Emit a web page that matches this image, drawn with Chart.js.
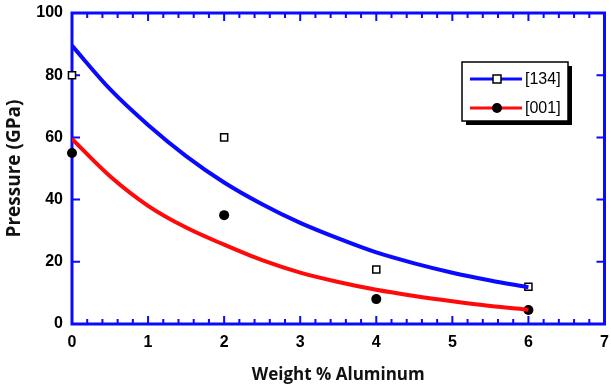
<!DOCTYPE html>
<html>
<head>
<meta charset="utf-8">
<script src="https://cdn.jsdelivr.net/npm/chart.js@4/dist/chart.umd.min.js"></script>
<style>
  html, body { margin: 0; padding: 0; background: #fff; }
  #wrap { width: 611px; height: 389px; }
</style>
</head>
<body>
<div id="wrap"><canvas id="pressureChart"></canvas></div>
<script>
// measured points
const weightPct = [0, 2, 4, 6];
const pressure134 = [80, 60, 17.5, 12];
const pressure001 = [55, 35, 8, 4.5];

// fitted curves, sampled every 0.5 wt%
const fitWeight = [0, 0.5, 1, 1.5, 2, 2.5, 3, 3.5, 4, 4.5, 5, 5.5, 6];
const fit134 = [89.5, 75.5, 64, 54, 45.5, 38.5, 32.5, 27.5, 23, 19.5, 16.5, 14, 11.8];
const fit001 = [59.5, 47.5, 38, 31, 25.5, 20.5, 16.5, 13.5, 11, 9, 7.3, 5.8, 4.6];

const xTickValues = [0, 1, 2, 3, 4, 5, 6, 7];
const yTickValues = [0, 20, 40, 60, 80, 100];

const BLUE = '#0a0aff';
const RED = '#ff0a0a';
const FONT = '"Liberation Sans", Arial, sans-serif';
const TITLE_FONT = '"Open Sans", "Liberation Sans", sans-serif';

function toXY(xs, ys) {
    return xs.map((x, i) => ({ x: x, y: ys[i] }));
}

// box frame with inward ticks on all four sides
const frameTicks = {
    id: 'frameTicks',
    beforeDatasetsDraw(chart) {
        const { ctx, chartArea: a, scales: { x, y } } = chart;
        ctx.save();
        ctx.strokeStyle = BLUE;
        ctx.lineWidth = 2;
        ctx.beginPath();
        for (let i = 1; i < 35; i++) {
            const px = x.getPixelForValue(i / 5);
            const len = i % 5 === 0 ? 8 : 5;
            ctx.moveTo(px, a.bottom); ctx.lineTo(px, a.bottom - len);
            ctx.moveTo(px, a.top); ctx.lineTo(px, a.top + len);
        }
        y.ticks.forEach(t => {
            if (t.value <= 0 || t.value >= 100) return;
            const py = y.getPixelForValue(t.value);
            ctx.moveTo(a.left, py); ctx.lineTo(a.left + 8, py);
            ctx.moveTo(a.right, py); ctx.lineTo(a.right - 8, py);
        });
        ctx.stroke();
        ctx.lineWidth = 3;
        ctx.strokeRect(a.left, a.top, a.right - a.left, a.bottom - a.top);
        ctx.restore();
    }
};

// boxed legend with drop shadow, line sample plus marker
const boxLegend = {
    id: 'boxLegend',
    afterDraw(chart) {
        const ctx = chart.ctx;
        const bx = 462, by = 62, bw = 106, bh = 59;
        ctx.save();
        ctx.fillStyle = '#000';
        ctx.fillRect(bx + 4, by + 4, bw, bh);
        ctx.fillStyle = '#fff';
        ctx.fillRect(bx, by, bw, bh);
        ctx.strokeStyle = '#000';
        ctx.lineWidth = 1.5;
        ctx.strokeRect(bx, by, bw, bh);

        const items = [
            { line: BLUE, ds: chart.data.datasets[2], y: by + 17 },
            { line: RED, ds: chart.data.datasets[3], y: by + 46 }
        ];
        items.forEach(it => {
            ctx.strokeStyle = it.line;
            ctx.lineWidth = 3;
            ctx.beginPath();
            ctx.moveTo(bx + 8, it.y);
            ctx.lineTo(bx + 60, it.y);
            ctx.stroke();
            const mx = bx + 35;
            if (it.ds.pointStyle === 'rect') {
                ctx.fillStyle = '#fff';
                ctx.fillRect(mx - 4, it.y - 4, 8, 8);
                ctx.strokeStyle = '#000';
                ctx.lineWidth = 1.5;
                ctx.strokeRect(mx - 4, it.y - 4, 8, 8);
            } else {
                ctx.fillStyle = '#000';
                ctx.beginPath();
                ctx.arc(mx, it.y, 5, 0, Math.PI * 2);
                ctx.fill();
            }
            ctx.fillStyle = '#000';
            ctx.font = '16px ' + FONT;
            ctx.textBaseline = 'middle';
            ctx.fillText(it.ds.label, bx + 63, it.y + 1);
        });
        ctx.restore();
    }
};

new Chart(document.getElementById('pressureChart'), {
    type: 'scatter',
    data: {
        datasets: [{
            data: toXY(fitWeight, fit134),
            showLine: true,
            borderColor: BLUE,
            borderWidth: 4,
            pointRadius: 0,
            cubicInterpolationMode: 'monotone'
        }, {
            data: toXY(fitWeight, fit001),
            showLine: true,
            borderColor: RED,
            borderWidth: 4,
            pointRadius: 0,
            cubicInterpolationMode: 'monotone'
        }, {
            label: '[134]',
            data: toXY(weightPct, pressure134),
            pointStyle: 'rect',
            pointRadius: 5,
            backgroundColor: '#fff',
            borderColor: '#000',
            borderWidth: 1.5,
            clip: false
        }, {
            label: '[001]',
            data: toXY(weightPct, pressure001),
            pointStyle: 'circle',
            pointRadius: 5,
            backgroundColor: '#000',
            borderColor: '#000',
            borderWidth: 0,
            clip: false
        }]
    },
    options: {
        responsive: true,
        maintainAspectRatio: false,
        animation: false,
        layout: { padding: { top: 13, right: 6, left: 0, bottom: 0 } },
        plugins: {
            legend: { display: false },
            tooltip: { enabled: false }
        },
        scales: {
            x: {
                type: 'linear',
                min: 0,
                max: 7,
                afterBuildTicks: s => { s.ticks = xTickValues.map(v => ({ value: v })); },
                afterFit: s => { s.height = 65; s.paddingLeft = 0; s.paddingRight = 0; },
                grid: { display: false, drawTicks: false },
                border: { display: false },
                ticks: {
                    color: '#000',
                    padding: 9,
                    font: { family: FONT, size: 16, weight: 'bold' }
                },
                title: {
                    display: true,
                    text: 'Weight % Aluminum',
                    color: '#111',
                    padding: { bottom: 4 },
                    font: { family: TITLE_FONT, size: 17, weight: 'bold' }
                }
            },
            y: {
                type: 'linear',
                min: 0,
                max: 100,
                afterBuildTicks: s => { s.ticks = yTickValues.map(v => ({ value: v })); },
                afterFit: s => { s.width = 72; s.paddingTop = 0; s.paddingBottom = 0; },
                grid: { display: false, drawTicks: false },
                border: { display: false },
                ticks: {
                    color: '#000',
                    padding: 9,
                    font: { family: FONT, size: 16, weight: 'bold' }
                },
                title: {
                    display: true,
                    text: 'Pressure (GPa)',
                    color: '#111',
                    padding: { top: 3 },
                    font: { family: TITLE_FONT, size: 19, weight: 'bold' }
                }
            }
        }
    },
    plugins: [frameTicks, boxLegend]
});
</script>
</body>
</html>
